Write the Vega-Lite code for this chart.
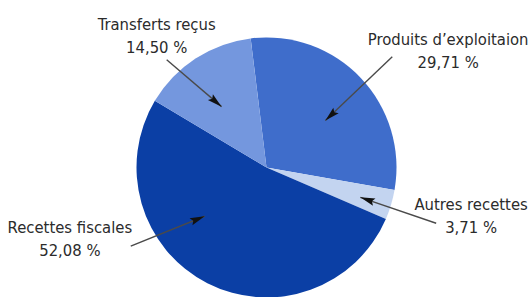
{
  "$schema": "https://vega.github.io/schema/vega-lite/v6.json",
  "width": 529,
  "height": 297,
  "autosize": {"type": "fit", "contains": "padding"},
  "padding": 0,
  "background": "white",
  "config": {"view": {"stroke": null}},
  "data": {
    "values": [
      {"name": "Produits d’exploitaion", "pct": 29.71, "txt": "29,71 %", "ord": 1, "lx": 449, "ly": 45.6, "tx": 393, "ty": 57, "hx": 326, "hy": 121},
      {"name": "Autres recettes", "pct": 3.71, "txt": "3,71 %", "ord": 2, "lx": 472, "ly": 211, "tx": 437, "ty": 224, "hx": 361, "hy": 198},
      {"name": "Recettes fiscales", "pct": 52.08, "txt": "52,08 %", "ord": 3, "lx": 70, "ly": 233.5, "tx": 131, "ty": 247, "hx": 205, "hy": 217},
      {"name": "Transferts reçus", "pct": 14.5, "txt": "14,50 %", "ord": 4, "lx": 157, "ly": 29.7, "tx": 167, "ty": 60, "hx": 222, "hy": 107}
    ]
  },
  "layer": [
    {
      "mark": {"type": "arc", "outerRadius": 130},
      "encoding": {
        "theta": {"field": "pct", "type": "quantitative", "stack": true, "scale": {"range": [-0.122, 6.161]}},
        "order": {"field": "ord", "type": "quantitative"},
        "color": {
          "field": "name", "type": "nominal", "legend": null,
          "scale": {
            "domain": ["Produits d’exploitaion", "Autres recettes", "Recettes fiscales", "Transferts reçus"],
            "range": ["#3f6dcb", "#c3d4f0", "#0b3fa5", "#7497de"]
          }
        },
        "x": {"datum": 267, "type": "quantitative", "axis": null, "scale": {"domain": [0, 529], "nice": false, "zero": false}},
        "y": {"datum": 168, "type": "quantitative", "axis": null, "scale": {"domain": [0, 297], "nice": false, "zero": false, "reverse": true}}
      }
    },
    {
      "mark": {"type": "rule", "color": "#4a4a4a", "strokeWidth": 1.4},
      "encoding": {
        "x": {"field": "tx", "type": "quantitative"},
        "y": {"field": "ty", "type": "quantitative"},
        "x2": {"field": "hx"},
        "y2": {"field": "hy"}
      }
    },
    {
      "transform": [{"calculate": "atan2(datum.hx - datum.tx, datum.ty - datum.hy) * 180 / PI", "as": "ang"}],
      "mark": {"type": "point", "filled": true, "opacity": 1, "color": "#111111", "shape": "M0,0L0.55,2.1L0,1.75L-0.55,2.1Z", "size": 196},
      "encoding": {
        "x": {"field": "hx", "type": "quantitative"},
        "y": {"field": "hy", "type": "quantitative"},
        "angle": {"field": "ang", "type": "quantitative", "scale": {"domain": [-360, 360], "range": [-360, 360]}}
      }
    },
    {
      "mark": {"type": "text", "font": "DejaVu Sans Condensed", "fontSize": 16.5, "color": "#2b2b2b", "align": "center", "baseline": "alphabetic"},
      "encoding": {
        "x": {"field": "lx", "type": "quantitative"},
        "y": {"field": "ly", "type": "quantitative"},
        "text": {"field": "name"}
      }
    },
    {
      "mark": {"type": "text", "font": "DejaVu Sans Condensed", "fontSize": 16.5, "color": "#2b2b2b", "align": "center", "baseline": "alphabetic", "dy": 23},
      "encoding": {
        "x": {"field": "lx", "type": "quantitative"},
        "y": {"field": "ly", "type": "quantitative"},
        "text": {"field": "txt"}
      }
    }
  ]
}
